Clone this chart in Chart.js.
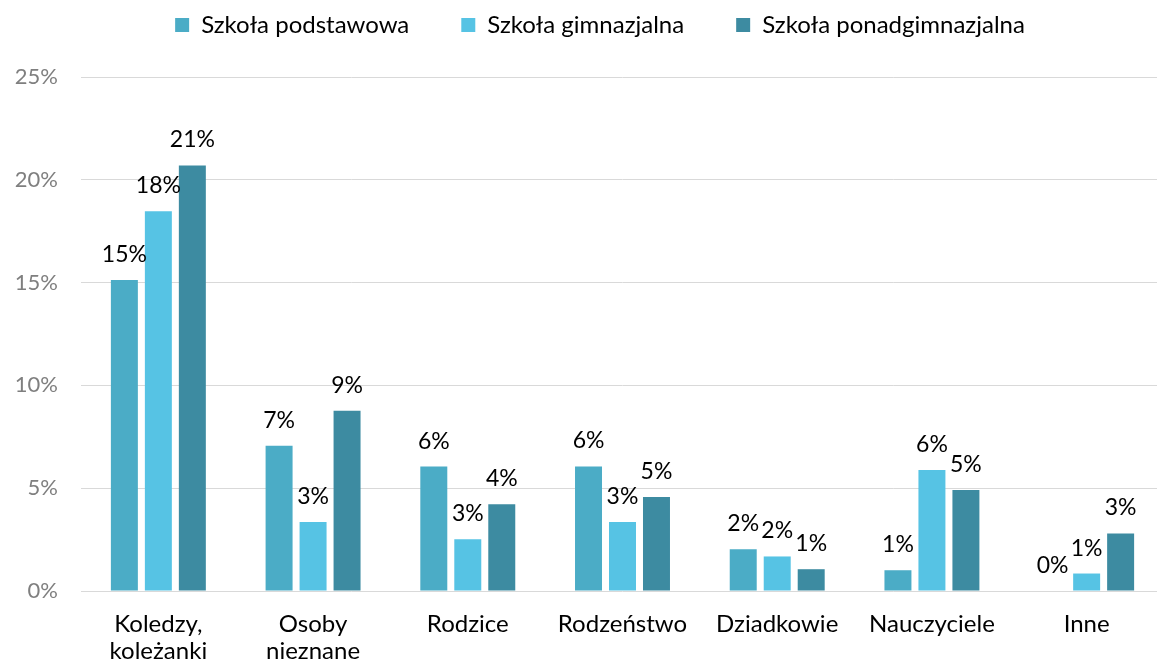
<!DOCTYPE html>
<html>
<head>
<meta charset="utf-8">
<script src="https://cdn.jsdelivr.net/npm/chart.js@4.4.1/dist/chart.umd.min.js"></script>
<style>
  html, body { margin: 0; padding: 0; background: #fff; overflow: hidden; }
  #wrap { width: 1200px; height: 668px; }
</style>
</head>
<body>
<div id="wrap"><canvas id="c" width="1200" height="668"></canvas></div>
<script>
// kategorie (osoby) i wartości w %
const categories = [["Koledzy,", "koleżanki"], ["Osoby", "nieznane"], "Rodzice", "Rodzeństwo", "Dziadkowie", "Nauczyciele", "Inne"];
const podstawowa = [15.13, 7.07, 6.05, 6.06, 2.03, 1.01, 0];
const gimnazjalna = [18.47, 3.36, 2.52, 3.35, 1.68, 5.88, 0.85];
const ponadgimnazjalna = [20.70, 8.77, 4.22, 4.57, 1.06, 4.91, 2.80];
const seriesNames = ["Szkoła podstawowa", "Szkoła gimnazjalna", "Szkoła ponadgimnazjalna"];
const yTicks = [0, 5, 10, 15, 20, 25];

const colors = ["#4BACC6", "#56C3E4", "#3D8BA1"];
const FONT = "Lato";

// etykiety nad słupkami
const barLabels = {
  id: "barLabels",
  afterDatasetsDraw(chart) {
    const ctx = chart.ctx;
    ctx.save();
    ctx.font = "23px " + FONT;
    ctx.fillStyle = "#000";
    ctx.textAlign = "center";
    ctx.textBaseline = "alphabetic";
    chart.data.datasets.forEach((ds, i) => {
      chart.getDatasetMeta(i).data.forEach((bar, j) => {
        ctx.fillText(Math.round(ds.data[j]) + "%", bar.x, bar.y - 18);
      });
    });
    ctx.restore();
  }
};

// legenda: stała wysokość i przesunięcie (jak w oryginale)
const legendTweak = {
  id: "legendTweak",
  beforeInit(chart) {
    const lg = chart.legend;
    const fit = lg.fit;
    lg.fit = function() { fit.call(this); this.height = 77; };
    const draw = lg.draw;
    lg.draw = function() {
      const ctx = chart.ctx;
      ctx.save();
      ctx.translate(18, -39);
      draw.apply(this, arguments);
      ctx.restore();
    };
  }
};

new Chart(document.getElementById("c"), {
  type: "bar",
  data: {
    labels: categories,
    datasets: [
      { label: seriesNames[0], data: podstawowa, backgroundColor: colors[0] },
      { label: seriesNames[1], data: gimnazjalna, backgroundColor: colors[1] },
      { label: seriesNames[2], data: ponadgimnazjalna, backgroundColor: colors[2] }
    ]
  },
  options: {
    responsive: false,
    animation: false,
    devicePixelRatio: 1,
    layout: { padding: { left: 0, right: 36, top: 0, bottom: 0 } },
    datasets: { bar: { categoryPercentage: 0.659, barPercentage: 0.794 } },
    plugins: {
      legend: {
        position: "top",
        labels: {
          boxWidth: 14, boxHeight: 14, padding: 52,
          color: "#000",
          font: { family: FONT, size: 24 }
        }
      },
      tooltip: { enabled: false }
    },
    scales: {
      x: {
        grid: { display: false },
        border: { display: false },
        ticks: { color: "#000", font: { family: FONT, size: 24, lineHeight: 1.12 }, padding: 12, maxRotation: 0, autoSkip: false },
        afterFit(s) { s.height = 77; }
      },
      y: {
        min: 0, max: 25,
        afterBuildTicks(s) { s.ticks = yTicks.map(v => ({ value: v })); },
        grid: { color: "#D9D9D9", drawTicks: false },
        border: { display: false },
        ticks: { color: "#7F7F7F", font: { family: FONT, size: 22 }, padding: 23, callback: v => v + "%" },
        afterFit(s) { s.width = 81; }
      }
    }
  },
  plugins: [barLabels, legendTweak]
});
</script>
</body>
</html>
